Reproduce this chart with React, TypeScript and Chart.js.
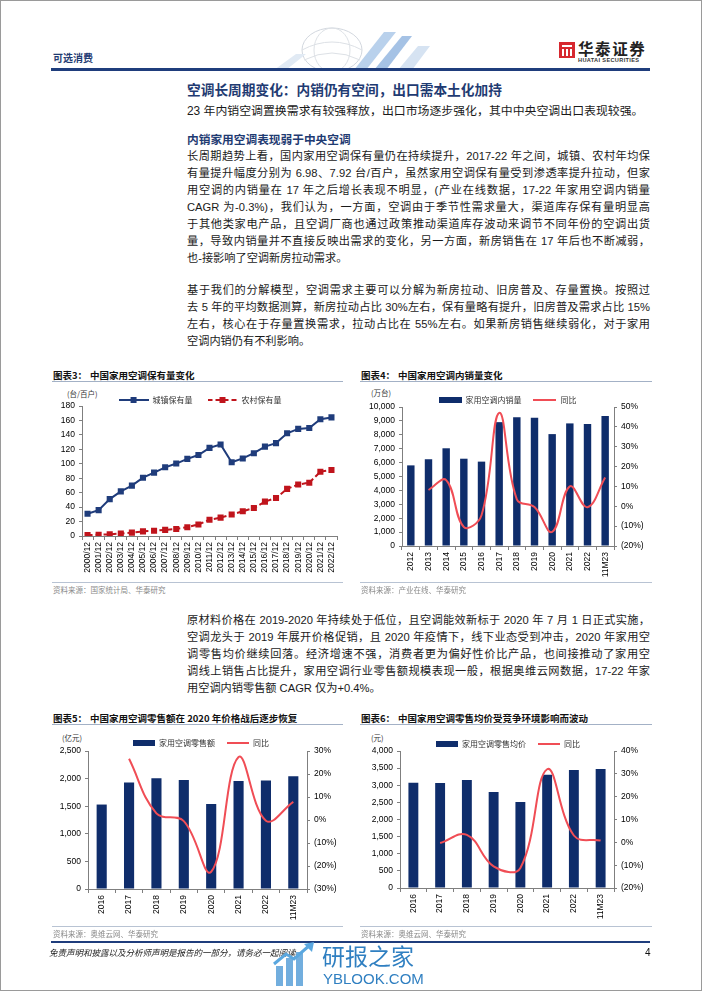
import React, { useEffect, useRef } from 'react';
import { Chart, registerables } from 'chart.js';

Chart.register(...registerables);

const LATIN = '"Liberation Sans", Arial, "Noto Sans CJK SC", sans-serif';
const CJK = '"Noto Sans CJK SC", "Liberation Sans", sans-serif';
Chart.defaults.font.family = LATIN;

// ---------- Figure 3: household AC ownership (units per 100 households)
const years3 = ['2000/12', '2001/12', '2002/12', '2003/12', '2004/12', '2005/12', '2006/12', '2007/12', '2008/12', '2009/12', '2010/12', '2011/12', '2012/12', '2013/12', '2014/12', '2015/12', '2016/12', '2017/12', '2018/12', '2019/12', '2020/12', '2021/12', '2022/12'];
const urban3 = [30.8, 35.8, 51.1, 61.8, 69.8, 80.7, 87.8, 95.1, 100.3, 106.8, 112.1, 122.0, 126.8, 102.2, 107.4, 114.6, 123.7, 128.6, 142.2, 148.3, 149.6, 161.7, 164.2];
const rural3 = [1.3, 1.7, 2.3, 3.4, 4.7, 6.4, 7.3, 8.5, 9.8, 12.2, 16.0, 22.6, 25.4, 29.8, 34.2, 38.8, 47.6, 52.6, 65.2, 71.3, 73.8, 89.0, 91.4];

// ---------- Figure 4: domestic sales (10k units) and YoY (%)
const years4 = ['2012', '2013', '2014', '2015', '2016', '2017', '2018', '2019', '2020', '2021', '2022', '11M23'];
const sales4 = [5800, 6250, 7030, 6280, 6070, 8910, 9270, 9230, 8050, 8820, 8770, 9350];
const yoy4 = [null, 8.2, 13.2, -10.4, -4.5, 47.0, 3.5, -0.4, -12.9, 10.0, -0.5, 14.5];

// ---------- Figure 5: retail sales (100m RMB) and YoY (%)
const years5 = ['2016', '2017', '2018', '2019', '2020', '2021', '2022', '11M23'];
const retail5 = [1530, 1928, 2006, 1976, 1542, 1958, 1964, 2042];
const yoy5 = [null, 26.6, 2.9, -0.5, -22.5, 27.4, -0.3, 7.9];

// ---------- Figure 6: average retail price (RMB) and YoY (%)
const years6 = ['2016', '2017', '2018', '2019', '2020', '2021', '2022', '11M23'];
const price6 = [3075, 3066, 3153, 2803, 2511, 3309, 3445, 3474];
const yoy6 = [null, -0.3, 3.3, -10.5, -11.2, 32.0, 3.0, 0.8];

const NAVY = '#0f2d6b';
const NAVY3 = '#1f3c7b';
const RED3 = '#c0141c';
const RED = '#f04d55';
const AXIS = '#7f7f7f';
const tickFont = { family: LATIN, size: 8.5 };

function swatchLineMarker(color: string, dashed: boolean) {
  const c = document.createElement('canvas');
  c.width = 30; c.height = 8;
  const g = c.getContext('2d')!;
  g.strokeStyle = color; g.lineWidth = 2;
  if (dashed) g.setLineDash([5, 3]);
  g.beginPath(); g.moveTo(0, 4); g.lineTo(30, 4); g.stroke();
  g.fillStyle = color; g.fillRect(12, 1, 6, 6);
  return c;
}
function swatchBar(color: string, w: number) {
  const c = document.createElement('canvas');
  c.width = w; c.height = 6;
  const g = c.getContext('2d')!;
  g.fillStyle = color; g.fillRect(0, 0, w, 6);
  return c;
}
function swatchLine(color: string, w: number) {
  const c = document.createElement('canvas');
  c.width = w; c.height = 4;
  const g = c.getContext('2d')!;
  g.strokeStyle = color; g.lineWidth = 2;
  g.beginPath(); g.moveTo(0, 2); g.lineTo(w, 2); g.stroke();
  return c;
}

function legendOpts(items: { text: string; style: HTMLCanvasElement }[], boxW: number, pad: number, maxH: number) {
  return {
    display: true,
    position: 'top',
    align: 'center',
    maxHeight: maxH,
    labels: {
      usePointStyle: true,
      pointStyleWidth: boxW,
      padding: pad,
      color: '#333',
      font: { family: CJK, size: 8 },
      generateLabels: () =>
        items.map((it, i) => ({
          text: it.text,
          pointStyle: it.style,
          fillStyle: 'rgba(0,0,0,0)',
          strokeStyle: 'rgba(0,0,0,0)',
          lineWidth: 0,
          hidden: false,
          datasetIndex: i,
          fontColor: '#333',
        })),
    },
  };
}

function xAxis(height: number) {
  return {
    type: 'category',
    offset: true,
    grid: { display: true, drawOnChartArea: false, offset: true, tickLength: 4, color: AXIS, lineWidth: 1 },
    border: { display: true, color: AXIS, width: 1 },
    ticks: { font: tickFont, color: '#000', minRotation: 90, maxRotation: 90, autoSkip: false, padding: 2 },
    afterFit: (s: any) => { s.height = height; },
  };
}
function yAxis(pos: string, min: number, max: number, step: number, width: number, fmt: (v: any) => string) {
  return {
    position: pos,
    min, max,
    grid: { display: true, drawOnChartArea: false, tickLength: 3, color: AXIS },
    border: { display: true, color: AXIS },
    ticks: { stepSize: step, font: tickFont, color: '#000', padding: 4, callback: fmt },
    afterFit: (s: any) => { s.width = width; },
  };
}
// empty spacer axis on the right so that the legend can be centred like the reference
function spacerAxis(width: number) {
  return {
    position: 'right',
    display: true,
    grid: { display: false, drawTicks: false },
    border: { display: false },
    ticks: { display: false },
    afterFit: (s: any) => { s.width = width; },
  };
}
const fmtComma = (v: any) => Number(v).toLocaleString('en-US');
const fmtPct = (v: any) => (Number(v) < 0 ? '(' + Math.abs(Number(v)) + '%)' : Number(v) + '%');
const fmtPlain = (v: any) => String(v);

function config3() {
  return {
    type: 'line',
    data: {
      labels: years3,
      datasets: [
        { label: '城镇保有量', data: urban3, borderColor: NAVY3, backgroundColor: NAVY3, borderWidth: 2, pointStyle: 'rect', pointRadius: 4.3, pointBorderWidth: 0, tension: 0 },
        { label: '农村保有量', data: rural3, borderColor: RED3, backgroundColor: RED3, borderWidth: 2, borderDash: [5, 3], pointStyle: 'rect', pointRadius: 4.3, pointBorderWidth: 0, tension: 0 },
      ],
    },
    options: {
      responsive: false,
      animation: false,
      layout: { padding: { left: 15, right: 0, top: 0, bottom: 0 } },
      plugins: {
        legend: legendOpts([
          { text: '城镇保有量', style: swatchLineMarker(NAVY3, false) },
          { text: '农村保有量', style: swatchLineMarker(RED3, true) },
        ], 30, 15, 25),
        tooltip: { enabled: false },
      },
      scales: {
        x: xAxis(40),
        y: yAxis('left', 0, 180, 20, 27, fmtPlain),
        yR: spacerAxis(8),
      },
    },
  };
}

function comboConfig(p: {
  labels: string[]; bars: number[]; line: (number | null)[]; barName: string; barSw: number;
  yMax: number; yStep: number; y2Min: number; y2Max: number;
  barPct: number; leftW: number; rightW: number; padLeft: number; legendH: number;
}) {
  return {
    type: 'bar',
    data: {
      labels: p.labels,
      datasets: [
        { type: 'line', label: '同比', data: p.line, yAxisID: 'y1', borderColor: RED, backgroundColor: RED, borderWidth: 2, pointRadius: 0, tension: 0.4, fill: false, order: 0 },
        { type: 'bar', label: p.barName, data: p.bars, yAxisID: 'y', backgroundColor: NAVY, barPercentage: p.barPct, categoryPercentage: 1, order: 1 },
      ],
    },
    options: {
      responsive: false,
      animation: false,
      layout: { padding: { left: p.padLeft, right: 0, top: 0, bottom: 0 } },
      plugins: {
        legend: legendOpts([
          { text: p.barName, style: swatchBar(NAVY, p.barSw) },
          { text: '同比', style: swatchLine(RED, p.barSw) },
        ], p.barSw, 12, p.legendH),
        tooltip: { enabled: false },
      },
      scales: {
        x: xAxis(40),
        y: yAxis('left', 0, p.yMax, p.yStep, p.leftW, fmtComma),
        y1: yAxis('right', p.y2Min, p.y2Max, 10, p.rightW, fmtPct),
      },
    },
  };
}

function ChartCanvas(props: { left: number; top: number; width: number; height: number; make: () => any }) {
  const ref = useRef<HTMLCanvasElement>(null);
  useEffect(() => {
    const chart = new Chart(ref.current as HTMLCanvasElement, props.make());
    return () => chart.destroy();
  }, []);
  return (
    <canvas
      ref={ref}
      width={props.width}
      height={props.height}
      style={{ position: 'absolute', left: props.left, top: props.top, width: props.width, height: props.height }}
    />
  );
}

function Txt(p: { x: number; y: number; size: number; children: any; bold?: boolean; color?: string; family?: string; italic?: boolean; w?: number; just?: boolean; spacing?: number }) {
  const h = Math.round(p.size * 1.5);
  return (
    <div
      style={{
        position: 'absolute', left: p.x, top: p.y - h / 2, height: h, lineHeight: h + 'px',
        width: p.w, fontSize: p.size, fontWeight: p.bold ? 700 : 400, color: p.color || '#111',
        fontFamily: p.family || LATIN, fontStyle: p.italic ? 'italic' : 'normal',
        whiteSpace: p.w ? 'normal' : 'nowrap', overflow: 'visible',
        textAlign: p.just ? 'justify' : 'left', textAlignLast: p.just ? 'justify' : 'left',
        letterSpacing: p.spacing,
      } as any}
    >
      {p.children}
    </div>
  );
}

function Rule(p: { x: number; y: number; w: number; h: number; c: string }) {
  return <div style={{ position: 'absolute', left: p.x, top: p.y, width: p.w, height: p.h, background: p.c }} />;
}

const para1 = [
  '长周期趋势上看，国内家用空调保有量仍在持续提升，2017-22 年之间，城镇、农村年均保',
  '有量提升幅度分别为 6.98、7.92 台/百户，虽然家用空调保有量受到渗透率提升拉动，但家',
  '用空调的内销量在 17 年之后增长表现不明显，(产业在线数据，17-22 年家用空调内销量',
  'CAGR 为-0.3%)，我们认为，一方面，空调由于季节性需求量大，渠道库存保有量明显高',
  '于其他类家电产品，且空调厂商也通过政策推动渠道库存波动来调节不同年份的空调出货',
  '量，导致内销量并不直接反映出需求的变化，另一方面，新房销售在 17 年后也不断减弱，',
  '也-接影响了空调新房拉动需求。',
];
const para2 = [
  '基于我们的分解模型，空调需求主要可以分解为新房拉动、旧房普及、存量置换。按照过',
  '去 5 年的平均数据测算，新房拉动占比 30%左右，保有量略有提升，旧房普及需求占比 15%',
  '左右，核心在于存量置换需求，拉动占比在 55%左右。如果新房销售继续弱化，对于家用',
  '空调内销仍有不利影响。',
];
const para3 = [
  '原材料价格在 2019-2020 年持续处于低位，且空调能效新标于 2020 年 7 月 1 日正式实施，',
  '空调龙头于 2019 年展开价格促销，且 2020 年疫情下，线下业态受到冲击，2020 年家用空',
  '调零售均价继续回落。经济增速不强，消费者更为偏好性价比产品，也间接推动了家用空',
  '调线上销售占比提升，家用空调行业零售额规模表现一般，根据奥维云网数据，17-22 年家',
  '用空调内销零售额 CAGR 仅为+0.4%。',
];

function Para(p: { lines: string[]; y0: number }) {
  return (
    <>
      {p.lines.map((t, i) => (
        <Txt key={i} x={187} y={p.y0 + i * 17} size={11.2} w={i === p.lines.length - 1 ? undefined : 463} just={i !== p.lines.length - 1} color="#1a1a1a">
          {t}
        </Txt>
      ))}
    </>
  );
}

function FigHead(p: { x: number; y: number; num: string; title: string; w: number }) {
  return (
    <>
      <Txt x={p.x + 1} y={p.y} size={9.5} bold family={CJK} color="#111">{'图表' + p.num + '：'}</Txt>
      <Txt x={p.x + 38} y={p.y} size={9.5} bold family={CJK} color="#111">{p.title}</Txt>
      <Rule x={p.x} y={p.y + 5.5} w={p.w} h={1.5} c="#a3b1c6" />
    </>
  );
}
function FigFoot(p: { x: number; y: number; w: number; text: string }) {
  return (
    <>
      <Rule x={p.x} y={p.y} w={p.w} h={1} c="#b8c3d3" />
      <Txt x={p.x + 1} y={p.y + 7.5} size={7.5} family={CJK} color="#8a8a8a">{p.text}</Txt>
    </>
  );
}

export default function App() {
  return (
    <div
      lang="zh-CN"
      style={{ position: 'absolute', left: 0, top: 0, width: 702, height: 991, background: '#fff', overflow: 'hidden', fontFamily: LATIN, color: '#111' }}
    >
      {/* header decoration */}
      <svg style={{ position: 'absolute', left: 262, top: 24, width: 190, height: 46 }} width={190} height={46}>
        <ellipse cx={70} cy={26} rx={30} ry={22} fill="none" stroke="#d3d8df" strokeWidth={1} />
        <ellipse cx={70} cy={26} rx={18} ry={22} fill="none" stroke="#dde1e6" strokeWidth={1} />
        <path d="M40 26 Q70 10 100 26" fill="none" stroke="#dde1e6" strokeWidth={1} />
        <path d="M42 36 Q70 22 98 36" fill="none" stroke="#dde1e6" strokeWidth={1} />
        <polygon points="12,46 34,30 44,30 24,46" fill="#e1eaf4" />
        <polygon points="92,46 122,8 134,8 104,46" fill="#b9d1ec" />
        <polygon points="112,46 140,12 150,12 124,46" fill="#8fb3df" opacity={0.8} />
        <polygon points="136,46 156,22 168,22 150,46" fill="#d6e3f2" />
      </svg>

      {/* header */}
      <Txt x={53} y={57} size={10} bold family={CJK} color="#1f3b72">可选消费</Txt>
      <div style={{ position: 'absolute', left: 559, top: 42, width: 16, height: 16, background: '#d7282f' }}>
        <div style={{ position: 'absolute', left: 3, top: 3, width: 10, height: 2, background: '#fff' }} />
        <div style={{ position: 'absolute', left: 3, top: 7, width: 2, height: 7, background: '#fff' }} />
        <div style={{ position: 'absolute', left: 7, top: 7, width: 2, height: 7, background: '#fff' }} />
        <div style={{ position: 'absolute', left: 11, top: 7, width: 2, height: 7, background: '#fff' }} />
      </div>
      <Txt x={578} y={48} size={15.5} bold family={CJK} color="#222" spacing={1.6}>华泰证券</Txt>
      <Txt x={578} y={60} size={5.6} bold color="#333" spacing={0.35}>HUATAI SECURITIES</Txt>
      <Rule x={51} y={68} w={599} h={3} c="#1f3d7c" />

      {/* headings */}
      <Txt x={187} y={89} size={13.7} bold family={CJK} color="#1f3b72">空调长周期变化：内销仍有空间，出口需本土化加持</Txt>
      <Txt x={187} y={111} size={11.9} color="#1a1a1a">23 年内销空调置换需求有较强释放，出口市场逐步强化，其中中央空调出口表现较强。</Txt>
      <Txt x={187} y={139} size={11.7} bold family={CJK} color="#1f3b72">内销家用空调表现弱于中央空调</Txt>

      <Para lines={para1} y0={156} />
      <Para lines={para2} y0={290} />
      <Para lines={para3} y0={620} />

      {/* Figure 3 */}
      <FigHead x={52} y={375} num="3" title="中国家用空调保有量变化" w={291} />
      <Txt x={67} y={393} size={7.5} family={CJK} color="#333">(台/百户)</Txt>
      <ChartCanvas left={40} top={381} width={305} height={195} make={config3} />
      <FigFoot x={52} y={582} w={291} text="资料来源：国家统计局、华泰研究" />

      {/* Figure 4 */}
      <FigHead x={360} y={375} num="4" title="中国家用空调内销量变化" w={292} />
      <Txt x={371} y={392} size={7.5} family={CJK} color="#333">(万台)</Txt>
      <ChartCanvas
        left={355} top={384} width={305} height={202}
        make={() => comboConfig({ labels: years4, bars: sales4, line: yoy4, barName: '家用空调内销量', barSw: 23, yMax: 10000, yStep: 1000, y2Min: -20, y2Max: 50, barPct: 0.42, leftW: 47, rightW: 46, padLeft: 0, legendH: 23 })}
      />
      <FigFoot x={360} y={582} w={292} text="资料来源：产业在线、华泰研究" />

      {/* Figure 5 */}
      <FigHead x={52} y={718} num="5" title="中国家用空调零售额在 2020 年价格战后逐步恢复" w={291} />
      <Txt x={62} y={737} size={7.5} family={CJK} color="#333">(亿元)</Txt>
      <ChartCanvas
        left={40} top={727} width={305} height={202}
        make={() => comboConfig({ labels: years5, bars: retail5, line: yoy5, barName: '家用空调零售额', barSw: 22, yMax: 2500, yStep: 500, y2Min: -30, y2Max: 30, barPct: 0.37, leftW: 31, rightW: 38, padLeft: 17, legendH: 24 })}
      />
      <FigFoot x={52} y={926} w={291} text="资料来源：奥维云网、华泰研究" />

      {/* Figure 6 */}
      <FigHead x={360} y={718} num="6" title="中国家用空调零售均价受竞争环境影响而波动" w={292} />
      <Txt x={371} y={737} size={7.5} family={CJK} color="#333">(元)</Txt>
      <ChartCanvas
        left={355} top={728} width={305} height={200}
        make={() => comboConfig({ labels: years6, bars: price6, line: yoy6, barName: '家用空调零售均价', barSw: 22, yMax: 4000, yStep: 500, y2Min: -20, y2Max: 40, barPct: 0.37, leftW: 44, rightW: 46, padLeft: 1, legendH: 23 })}
      />
      <FigFoot x={360} y={926} w={292} text="资料来源：奥维云网、华泰研究" />

      {/* footer */}
      <Rule x={51} y={941} w={599} h={2} c="#1f3d7c" />
      <Txt x={49} y={952} size={8.5} italic family={CJK} color="#222">免责声明和披露以及分析师声明是报告的一部分，请务必一起阅读。</Txt>
      <Txt x={645} y={952} size={10} color="#111">4</Txt>

      {/* watermark */}
      <div style={{ position: 'absolute', left: 276, top: 966, width: 7, height: 20, background: '#4f9ad6', opacity: 0.8 }} />
      <div style={{ position: 'absolute', left: 286, top: 958, width: 7, height: 28, background: '#4f9ad6', opacity: 0.8 }} />
      <div style={{ position: 'absolute', left: 296, top: 952, width: 7, height: 34, background: '#4f9ad6', opacity: 0.8 }} />
      <svg style={{ position: 'absolute', left: 272, top: 942, width: 44, height: 26 }} width={44} height={26}>
        <polyline points="2,22 14,12 22,17 38,3" fill="none" stroke="#5aa7df" strokeWidth={3} />
        <polygon points="32,2 42,0 40,10" fill="#5aa7df" />
      </svg>
      <Txt x={322} y={955} size={23} family={CJK} color="#2f7fc1">研报之家</Txt>
      <Txt x={323} y={978} size={15} color="#2f7fc1">YBLOOK.COM</Txt>

      {/* page border */}
      <div style={{ position: 'absolute', left: 0, top: 0, width: 702, height: 991, boxSizing: 'border-box', border: '1px solid #9a9a9a', pointerEvents: 'none' }} />
    </div>
  );
}
